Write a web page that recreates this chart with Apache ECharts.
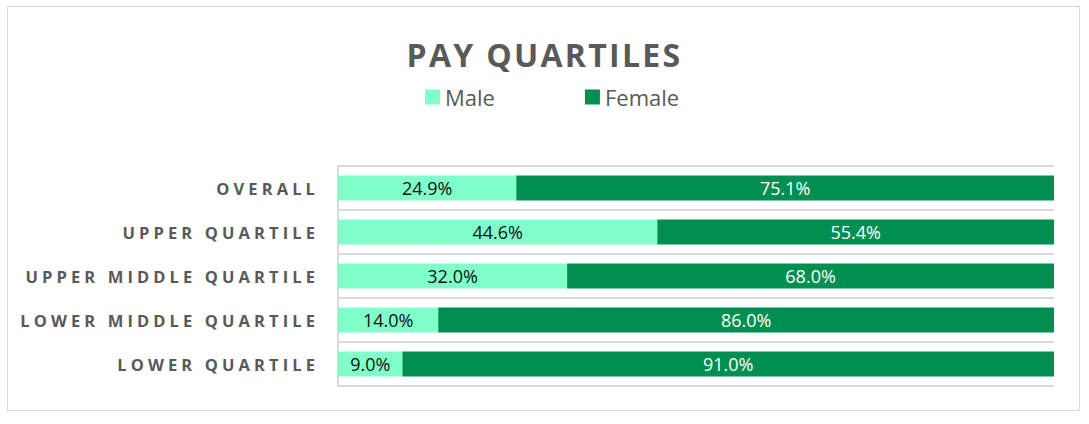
<!DOCTYPE html>
<html>
<head>
<meta charset="utf-8">
<script src="https://cdn.jsdelivr.net/npm/echarts@6/dist/echarts.min.js"></script>
<style>
  html, body { margin:0; padding:0; background:#fff; }
  #frame { position:absolute; left:7px; top:6px; width:1073px; height:405px; border:1px solid #d9d9d9; box-sizing:border-box; }
  #chart { position:absolute; left:0; top:0; width:1089px; height:424px; }
  #chart text[style*="bold"] { letter-spacing:4.1px; }
  #chart text[style*="32px"] { letter-spacing:2.3px; }
</style>
</head>
<body>
<div id="frame"></div>
<div id="chart"></div>
<script>
const categories = ['OVERALL', 'UPPER QUARTILE', 'UPPER MIDDLE QUARTILE', 'LOWER MIDDLE QUARTILE', 'LOWER QUARTILE'];
const maleValues = [24.9, 44.6, 32.0, 14.0, 9.0];
const femaleValues = [75.1, 55.4, 68.0, 86.0, 91.0];
const seriesNames = ['Male', 'Female'];

const chart = echarts.init(document.getElementById('chart'), null, { renderer: 'svg' });
const fmt = p => p.value.toFixed(1) + '%';
chart.setOption({
  animation: false,
  title: {
    text: 'PAY QUARTILES',
    left: 'center',
    top: 33,
    textStyle: { fontFamily: 'Open Sans', fontSize: 32, fontWeight: 'bold', color: '#595959' }
  },
  legend: {
    data: seriesNames,
    left: 420,
    top: 81,
    itemWidth: 15,
    itemHeight: 15,
    itemGap: 90,
    icon: 'rect',
    textStyle: { fontFamily: 'Open Sans', fontSize: 22, color: '#595959', padding: [0, 0, 0, 0] }
  },
  grid: { left: 338, right: 35, top: 166, bottom: 38, containLabel: false },
  xAxis: {
    type: 'value', min: 0, max: 100, show: false
  },
  yAxis: {
    type: 'category',
    data: categories,
    inverse: true,
    axisLine: { show: true, lineStyle: { color: '#d9d9d9', width: 2 } },
    axisTick: { show: false },
    splitLine: { show: true, lineStyle: { color: '#d9d9d9', width: 2 } },
    axisLabel: { fontFamily: 'Open Sans', fontSize: 16.5, fontWeight: 'bold', color: '#595959', margin: 19 }
  },
  series: [
    {
      name: seriesNames[0], type: 'bar', stack: 'total', data: maleValues, barWidth: 25,
      itemStyle: { color: '#80FFCA' },
      label: { show: true, position: 'inside', formatter: fmt, fontFamily: 'Open Sans', fontSize: 18, color: '#111' }
    },
    {
      name: seriesNames[1], type: 'bar', stack: 'total', data: femaleValues, barWidth: 25,
      itemStyle: { color: '#008F50' },
      label: { show: true, position: 'inside', formatter: fmt, fontFamily: 'Open Sans', fontSize: 18, color: '#fff' }
    }
  ]
});
</script>
</body>
</html>
